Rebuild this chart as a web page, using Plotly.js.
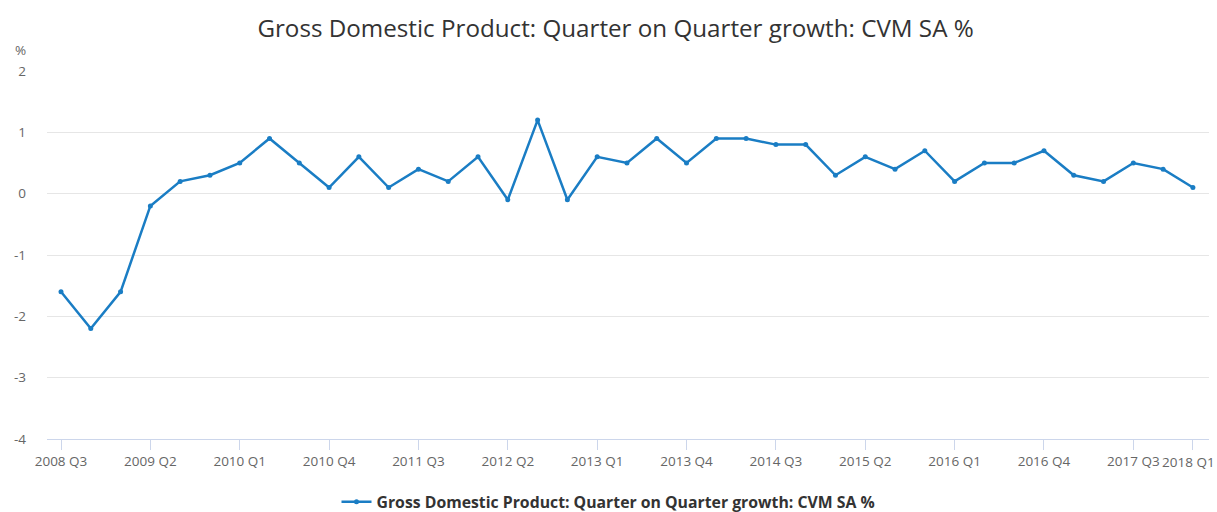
<!DOCTYPE html>
<html>
<head>
<meta charset="utf-8">
<script src="https://cdn.plot.ly/plotly-3.0.1.min.js"></script>
<style>
html,body{margin:0;padding:0;background:#fff;}
#chart{width:1217px;height:512px;}
</style>
</head>
<body>
<div id="chart"></div>
<script>
const quarters = [
  "2008 Q3","2008 Q4",
  "2009 Q1","2009 Q2","2009 Q3","2009 Q4",
  "2010 Q1","2010 Q2","2010 Q3","2010 Q4",
  "2011 Q1","2011 Q2","2011 Q3","2011 Q4",
  "2012 Q1","2012 Q2","2012 Q3","2012 Q4",
  "2013 Q1","2013 Q2","2013 Q3","2013 Q4",
  "2014 Q1","2014 Q2","2014 Q3","2014 Q4",
  "2015 Q1","2015 Q2","2015 Q3","2015 Q4",
  "2016 Q1","2016 Q2","2016 Q3","2016 Q4",
  "2017 Q1","2017 Q2","2017 Q3","2017 Q4",
  "2018 Q1"
];
const growth = [
  -1.6, -2.2,
  -1.6, -0.2, 0.2, 0.3,
  0.5, 0.9, 0.5, 0.1,
  0.6, 0.1, 0.4, 0.2,
  0.6, -0.1, 1.2, -0.1,
  0.6, 0.5, 0.9, 0.5,
  0.9, 0.9, 0.8, 0.8,
  0.3, 0.6, 0.4, 0.7,
  0.2, 0.5, 0.5, 0.7,
  0.3, 0.2, 0.5, 0.4,
  0.1
];
const tickLabels = ["2008 Q3","2009 Q2","2010 Q1","2010 Q4","2011 Q3","2012 Q2","2013 Q1","2013 Q4","2014 Q3","2015 Q2","2016 Q1","2016 Q4","2017 Q3","2018 Q1"];
const yTickValues = [-4, -3, -2, -1, 0, 1, 2];
const yTickLabels = ["-4", "-3", "-2", "-1", "0", "1", "2"];
const seriesName = "Gross Domestic Product: Quarter on Quarter growth: CVM SA %";
const chartTitle = "Gross Domestic Product: Quarter on Quarter growth: CVM SA %";

const xIdx = quarters.map((q, i) => i);
const tickVals = tickLabels.map(t => quarters.indexOf(t));
// the last label is drawn as an annotation, nudged left so it stays inside the page
const lastLabel = tickLabels[tickLabels.length - 1];
const tickTextShown = tickLabels.map((t, i) => i === tickLabels.length - 1 ? "" : t);

const trace = {
  x: xIdx,
  y: growth,
  text: quarters,
  type: "scatter",
  mode: "lines+markers",
  name: seriesName,
  line: {color: "#1a7dc4", width: 2.5},
  marker: {color: "#1a7dc4", size: 5},
  hovertemplate: "%{text}: %{y}<extra></extra>"
};

const layout = {
  width: 1217, height: 512,
  margin: {l: 47, r: 8, t: 71, b: 73},
  paper_bgcolor: "#ffffff",
  plot_bgcolor: "#ffffff",
  font: {family: "'Open Sans', sans-serif", color: "#666666", size: 13.5},
  title: {
    text: chartTitle,
    font: {family: "'Open Sans', sans-serif", size: 24.2, color: "#333333"},
    x: 0.5058, xanchor: "center", xref: "container", y: 0.945, yanchor: "middle"
  },
  xaxis: {
    range: [-0.47, 38.54],
    tickvals: tickVals,
    ticktext: tickTextShown,
    tickangle: 0,
    showgrid: false,
    zeroline: false,
    showline: true,
    linecolor: "#ccd6eb",
    linewidth: 1,
    ticks: "outside",
    ticklen: 10,
    tickcolor: "#ccd6eb",
    tickfont: {size: 13.5, color: "#666666"},
    automargin: false,
    fixedrange: true
  },
  yaxis: {
    range: [-4, 2],
    tickvals: yTickValues,
    ticktext: yTickLabels,
    showgrid: true,
    gridcolor: "#e6e6e6",
    gridwidth: 1,
    zeroline: false,
    showline: false,
    ticks: "",
    ticklabelstandoff: 20,
    tickfont: {size: 13.5, color: "#666666"},
    automargin: false,
    fixedrange: true
  },
  showlegend: true,
  legend: {
    orientation: "h",
    x: 0.5, xanchor: "center", xref: "container",
    y: 10 / 512, yanchor: "middle", yref: "container",
    font: {size: 15.8, color: "#333333", family: "'Open Sans', sans-serif", weight: "bold"}
  },
  annotations: [{
    text: "%",
    xref: "paper", yref: "paper",
    x: -0.016, y: 1.058,
    xanchor: "right", yanchor: "middle",
    showarrow: false,
    font: {size: 13.5, color: "#666666"}
  }, {
    text: lastLabel,
    xref: "x", yref: "paper",
    x: quarters.indexOf(lastLabel), y: 0,
    xanchor: "center", yanchor: "middle",
    xshift: -4, yshift: -23,
    showarrow: false,
    font: {size: 13.5, color: "#666666"}
  }]
};

Plotly.newPlot("chart", [trace], layout, {displayModeBar: false, staticPlot: true});
</script>
</body>
</html>
